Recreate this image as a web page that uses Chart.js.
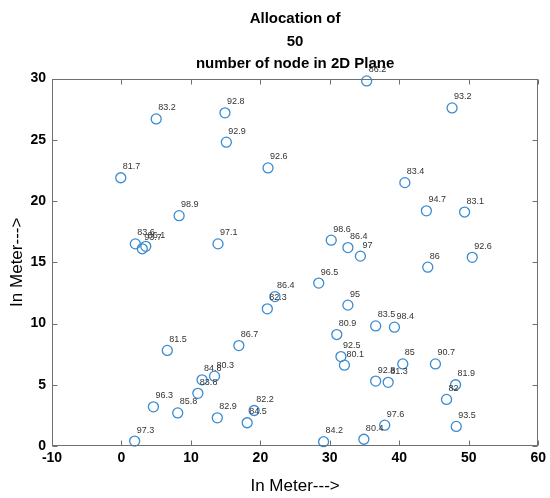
<!DOCTYPE html>
<html><head><meta charset="utf-8">
<script src="https://cdn.jsdelivr.net/npm/chart.js@4/dist/chart.umd.min.js"></script>
<style>html,body{margin:0;padding:0;background:#fff;}#wrap{width:550px;height:498px;}</style>
</head><body><div id="wrap"><canvas id="c" width="550" height="498"></canvas></div>
<script>
const titleLines = ['Allocation of', '50', 'number of node in 2D Plane'];
const xTitle = 'In Meter--->';
const yTitle = 'In Meter--->';
const xTicks = [-10, 0, 10, 20, 30, 40, 50, 60];
const yTicks = [0, 5, 10, 15, 20, 25, 30];

const nodeX = [-0.1, 5.0, 14.9, 15.1, 21.1, 8.3, 2.0, 3.0, 3.5, 13.9,
  35.3, 47.6, 40.8, 43.9, 49.4, 30.2, 32.6, 34.4, 44.1, 50.5,
  28.4, 32.6, 36.6, 39.3, 31.0, 31.6, 32.1, 40.5, 45.2, 36.6,
  38.4, 48.1, 46.8, 37.9, 48.2, 29.1, 34.9, 22.1, 21.0, 6.6,
  16.9, 13.4, 11.6, 11.0, 4.6, 8.1, 13.8, 19.1, 18.1, 1.9];
const nodeY = [21.9, 26.7, 27.2, 24.8, 22.7, 18.8, 16.5, 16.1, 16.3, 16.5,
  29.8, 27.6, 21.5, 19.2, 19.1, 16.8, 16.2, 15.5, 14.6, 15.4,
  13.3, 11.5, 9.8, 9.7, 9.1, 7.3, 6.6, 6.7, 6.7, 5.3,
  5.2, 5.0, 3.8, 1.7, 1.6, 0.35, 0.55, 12.2, 11.2, 7.8,
  8.2, 5.7, 5.4, 4.3, 3.2, 2.7, 2.3, 2.9, 1.9, 0.4];
const nodeLabel = ['81.7', '83.2', '92.8', '92.9', '92.6', '98.9', '83.6', '93.7', '86.1', '97.1',
  '86.2', '93.2', '83.4', '94.7', '83.1', '98.6', '86.4', '97', '86', '92.6',
  '96.5', '95', '83.5', '98.4', '80.9', '92.5', '80.1', '85', '90.7', '92.8',
  '81.3', '81.9', '82', '97.6', '93.5', '84.2', '80.4', '86.4', '82.3', '81.5',
  '86.7', '80.3', '84.8', '83.8', '96.3', '85.8', '82.9', '82.2', '84.5', '97.3'];

const points = nodeX.map((x, i) => ({ x: x, y: nodeY[i] }));
const FONT = '"Liberation Sans", Arial, Helvetica, sans-serif';

const framePlugin = {
  id: 'frame',
  afterDatasetsDraw(chart) {
    const { ctx, chartArea: a, scales: { x, y } } = chart;
    ctx.save();
    // node labels
    ctx.font = '9px ' + FONT;
    ctx.fillStyle = '#333';
    ctx.textAlign = 'left';
    ctx.textBaseline = 'middle';
    const meta = chart.getDatasetMeta(0);
    meta.data.forEach((pt, i) => {
      ctx.fillText(nodeLabel[i], pt.x + 2, pt.y - 11);
    });
    // box
    ctx.strokeStyle = '#707070';
    ctx.lineWidth = 1;
    const L = Math.round(a.left) + 0.5, R = Math.round(a.right) - 0.5;
    const T = Math.round(a.top) + 0.5, B = Math.round(a.bottom) - 0.5;
    ctx.strokeRect(L, T, R - L, B - T);
    ctx.beginPath();
    xTicks.forEach(v => {
      const px = Math.round(x.getPixelForValue(v)) + 0.5;
      ctx.moveTo(px, B); ctx.lineTo(px, B - 5);
      ctx.moveTo(px, T); ctx.lineTo(px, T + 5);
    });
    yTicks.forEach(v => {
      const py = Math.round(y.getPixelForValue(v)) + 0.5;
      ctx.moveTo(L, py); ctx.lineTo(L + 5, py);
      ctx.moveTo(R, py); ctx.lineTo(R - 5, py);
    });
    ctx.stroke();
    ctx.restore();
  }
};

new Chart(document.getElementById('c'), {
  type: 'scatter',
  data: {
    datasets: [{
      data: points,
      pointStyle: 'circle',
      pointRadius: 5,
      pointHoverRadius: 5,
      pointBorderWidth: 1.3,
      pointBorderColor: '#3a8bd0',
      pointBackgroundColor: 'rgba(0,0,0,0)',
      clip: false
    }]
  },
  options: {
    responsive: false,
    animation: false,
    devicePixelRatio: 1,
    events: [],
    layout: { padding: { left: 0, right: 9, top: 0, bottom: 0 } },
    plugins: {
      legend: { display: false },
      tooltip: { enabled: false },
      title: {
        display: true,
        text: titleLines,
        fullSize: false,
        color: '#000',
        font: { family: FONT, size: 15, weight: 'bold', lineHeight: 1.5 },
        padding: { top: 8, bottom: 3 }
      }
    },
    scales: {
      x: {
        type: 'linear', min: -10, max: 60,
        afterBuildTicks: s => { s.ticks = xTicks.map(v => ({ value: v })); },
        afterFit: s => { s.height = 52; },
        grid: { display: false, drawTicks: false },
        border: { display: false },
        ticks: { color: '#000', padding: 4, maxRotation: 0, autoSkip: false,
          font: { family: FONT, size: 14, weight: 'bold' } },
        title: { display: true, text: xTitle, color: '#000',
          font: { family: FONT, size: 17 }, padding: { top: 0, bottom: 1 } }
      },
      y: {
        type: 'linear', min: 0, max: 30,
        afterBuildTicks: s => { s.ticks = yTicks.map(v => ({ value: v })); },
        afterFit: s => { s.width = 52; },
        grid: { display: false, drawTicks: false },
        border: { display: false },
        ticks: { color: '#000', padding: 6, autoSkip: false,
          font: { family: FONT, size: 14, weight: 'bold' } },
        title: { display: true, text: yTitle, color: '#000',
          font: { family: FONT, size: 17 }, padding: { top: 7, bottom: 0 } }
      }
    }
  },
  plugins: [framePlugin]
});
</script></body></html>
